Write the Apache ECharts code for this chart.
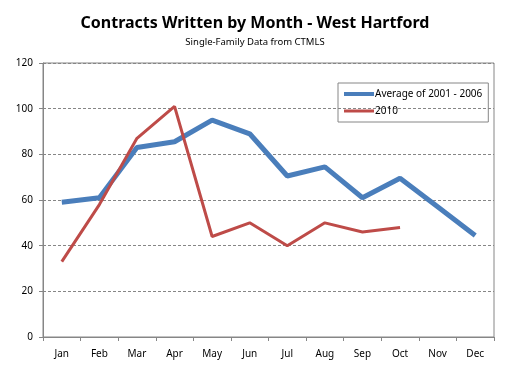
<!DOCTYPE html>
<html>
<head>
<meta charset="utf-8">
<script src="https://cdn.jsdelivr.net/npm/echarts@6/dist/echarts.min.js"></script>
<style>
  html, body { margin: 0; padding: 0; background: #fff; }
  #chart { width: 510px; height: 377px; }
</style>
</head>
<body>
<div id="chart"></div>
<script>
const months = ["Jan", "Feb", "Mar", "Apr", "May", "Jun", "Jul", "Aug", "Sep", "Oct", "Nov", "Dec"]
const avg2001to2006 = [59, 61, 83, 85.5, 95, 89, 70.5, 74.5, 61, 69.5, 57, 44.5]
const year2010 = [33, 58, 87, 101, 44, 50, 40, 50, 46, 48]

const font = "Noto Sans"
const chart = echarts.init(document.getElementById("chart"))

const option = {
  backgroundColor: "#fff",
  animation: false,
  title: {
    text: "Contracts Written by Month - West Hartford",
    subtext: "Single-Family Data from CTMLS",
    left: "center",
    top: 10,
    itemGap: 6,
    textStyle: { fontFamily: font, fontSize: 16, fontWeight: "bold", color: "#000" },
    subtextStyle: { fontFamily: font, fontSize: 9.5, color: "#000" },
  },
  legend: {
    orient: "vertical",
    left: 338,
    top: 83,
    padding: [6, 6, 6, 4],
    itemGap: 7,
    itemWidth: 30,
    itemHeight: 12,
    borderColor: "#868686",
    borderWidth: 1,
    itemStyle: { opacity: 0 },
    textStyle: { fontFamily: font, fontSize: 10, color: "#000", padding: [0, 0, 0, -4] },
    data: [
      { name: "Average of 2001 - 2006", lineStyle: { width: 4 } },
      { name: "2010", lineStyle: { width: 3 } },
    ],
  },
  grid: {
    left: 43,
    right: 16,
    top: 63,
    bottom: 40,
    show: true,
    borderColor: "#868686",
    borderWidth: 1,
  },
  xAxis: {
    type: "category",
    data: months,
    boundaryGap: true,
    axisLine: { lineStyle: { color: "#868686" } },
    axisTick: { show: true, length: 4, lineStyle: { color: "#868686" } },
    axisLabel: { fontFamily: font, fontSize: 10, color: "#000", margin: 12 },
  },
  yAxis: {
    type: "value",
    min: 0,
    max: 120,
    interval: 20,
    axisLine: { show: true, lineStyle: { color: "#868686" } },
    axisTick: { show: true, length: 4, lineStyle: { color: "#868686" } },
    axisLabel: { fontFamily: font, fontSize: 10, color: "#000", margin: 10 },
    splitLine: { lineStyle: { color: "#868686", type: [3, 2] } },
  },
  series: [
    {
      name: "Average of 2001 - 2006",
      type: "line",
      data: avg2001to2006,
      symbol: "none",
      lineStyle: { color: "#4a7ebb", width: 5 },
      itemStyle: { color: "#4a7ebb" },
    },
    {
      name: "2010",
      type: "line",
      data: year2010,
      symbol: "none",
      lineStyle: { color: "#be4b48", width: 3 },
      itemStyle: { color: "#be4b48" },
    },
  ],
}

chart.setOption(option)
window.addEventListener("resize", () => chart.resize())
</script>
</body>
</html>
